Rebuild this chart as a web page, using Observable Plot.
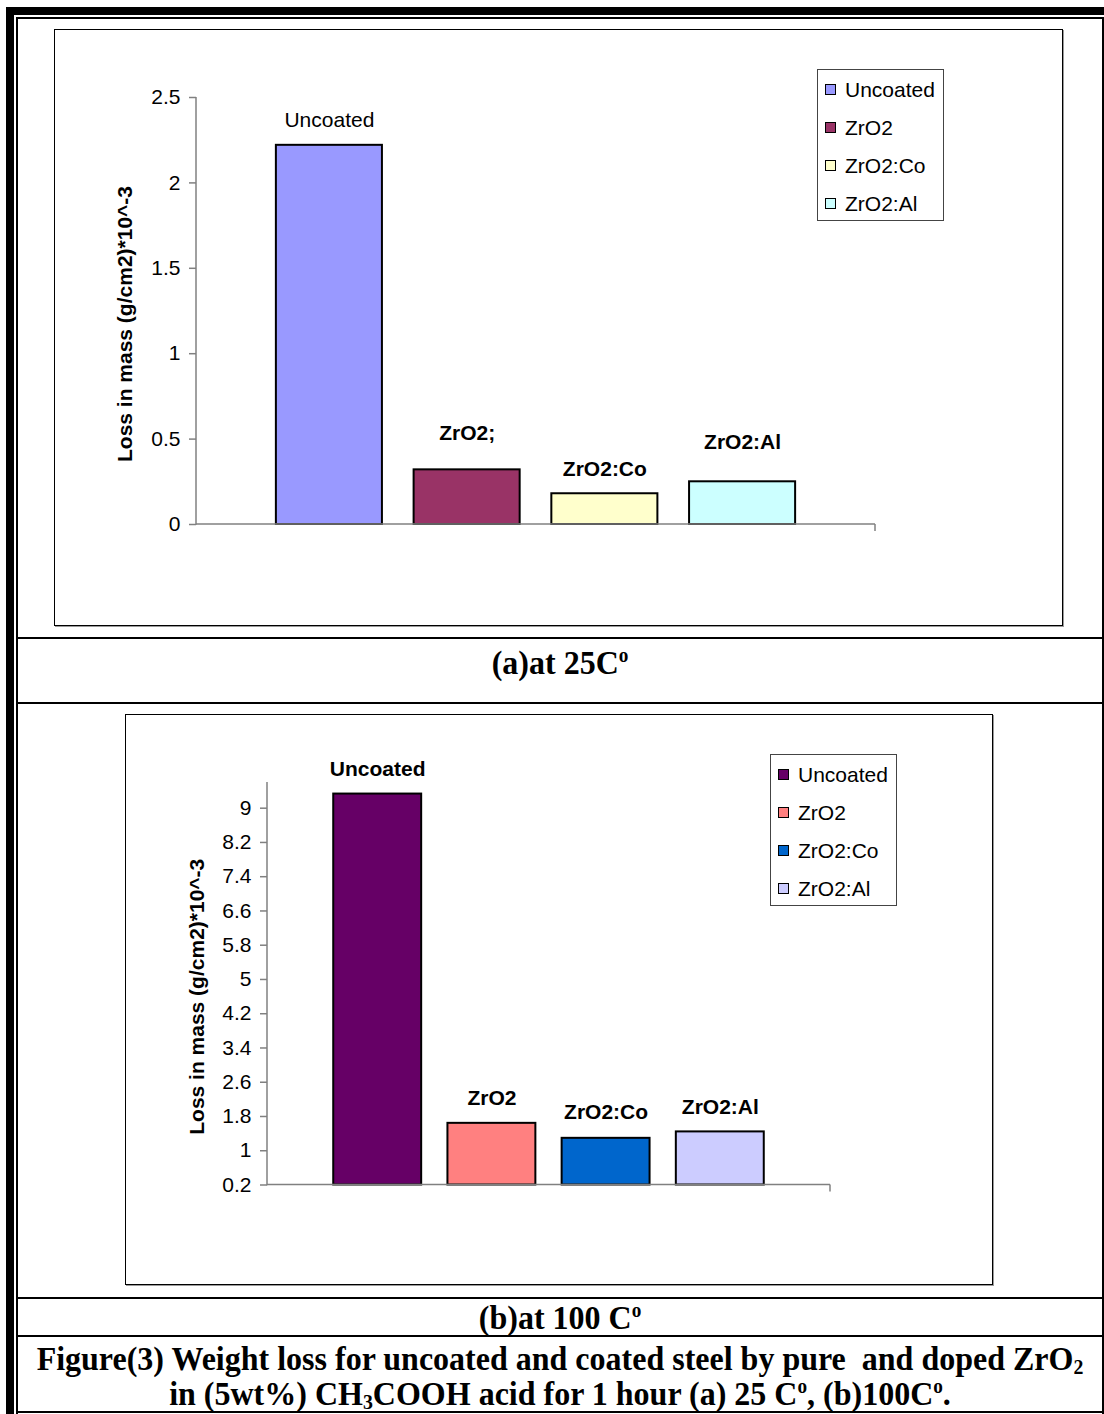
<!DOCTYPE html>
<html>
<head>
<meta charset="utf-8">
<script src="https://cdn.jsdelivr.net/npm/d3@7"></script>
<script src="https://cdn.jsdelivr.net/npm/@observablehq/plot@0.6"></script>
<style>
  html, body { margin: 0; padding: 0; background: #fff; }
  #page { position: relative; width: 1104px; height: 1414px; background: #fff; overflow: hidden; }
  .blk { position: absolute; background: #000; }
  .panel { position: absolute; box-sizing: border-box; border: 1px solid #000; box-shadow: 1px 1px 0 #9a9a9a; background: #fff; }
  .chart { position: absolute; }
  .legend { position: absolute; box-sizing: border-box; border: 1px solid #444; background: #fff;
            font-family: 'Liberation Sans', Arial, sans-serif; font-size: 21px; color: #000; }
  .legend .sw { position: absolute; width: 9px; height: 9px; border: 1.5px solid #000; }
  .legend .lt { position: absolute; line-height: 24px; white-space: nowrap; }
  .cap { position: absolute; left: 18px; width: 1084px; text-align: center; white-space: nowrap;
         font-family: 'Liberation Serif', 'Times New Roman', serif; font-weight: bold; font-size: 32px; line-height: 30px; color: #000;
         transform: scaleY(1.08); }
  .cap sup { font-size: 60%; vertical-align: 0.55em; line-height: 0; }
  .cap sub { font-size: 62%; vertical-align: -0.2em; line-height: 0; }
</style>
</head>
<body>
<div id="page"></div>
<script>
// ---------- data ----------
const categories = ["Uncoated", "ZrO2", "ZrO2:Co", "ZrO2:Al"];

const valuesA = [2.22, 0.32, 0.18, 0.25];
const barLabelsA = ["Uncoated", "ZrO2;", "ZrO2:Co", "ZrO2:Al"];
const colorsA = ["#9999FF", "#993366", "#FFFFCC", "#CCFFFF"];
const ticksA = [0, 0.5, 1, 1.5, 2, 2.5];

const valuesB = [9.33, 1.64, 1.29, 1.44];
const barLabelsB = ["Uncoated", "ZrO2", "ZrO2:Co", "ZrO2:Al"];
const colorsB = ["#660066", "#FF8080", "#0066CC", "#CCCCFF"];
const ticksB = [0.2, 1, 1.8, 2.6, 3.4, 4.2, 5, 5.8, 6.6, 7.4, 8.2, 9];

const yTitle = "Loss in mass (g/cm2)*10^-3";

// ---------- layout ----------
const page = document.getElementById("page");
function blk(l, t, w, h) {
  const d = document.createElement("div");
  d.className = "blk";
  Object.assign(d.style, {left: l + "px", top: t + "px", width: w + "px", height: h + "px"});
  page.appendChild(d);
}
// outer frame
blk(6, 7, 1098, 8);      // thick top
blk(6, 7, 8, 1407);      // thick left
blk(16, 17, 1088, 2);    // thin top
blk(16, 17, 2, 1397);    // thin left
blk(1102, 17, 2, 1397);  // thin right
blk(16, 1411, 1088, 2);  // thin bottom
// row separators
[637, 702, 1297, 1335].forEach(y => blk(16, y, 1088, 2));

function panel(l, t, w, h) {
  const d = document.createElement("div");
  d.className = "panel";
  Object.assign(d.style, {left: l + "px", top: t + "px", width: w + "px", height: h + "px"});
  page.appendChild(d);
}
panel(54, 29, 1009, 597);
panel(125, 714, 868, 571);

function chart({values, labels, colors, ticks, yDomain, left, top, width, height, margins, labelDy, labelWeight, titleDx, titleDy}) {
  const data = categories.map((c, i) => ({cat: c, value: values[i], label: labels[i]}));
  const axisLines = (index, scales, vals, dims) => {
    const g = d3.create("svg:g").attr("stroke", "#808080").attr("stroke-width", 1.5).attr("fill", "none");
    const x0 = dims.marginLeft, x1 = dims.width - dims.marginRight;
    const yT = scales.y(yDomain[1]), yB = scales.y(yDomain[0]);
    g.append("line").attr("x1", x0).attr("x2", x0).attr("y1", yT).attr("y2", yB + 0.75);
    g.append("line").attr("x1", x0).attr("x2", x1).attr("y1", yB).attr("y2", yB);
    g.append("line").attr("x1", x1).attr("x2", x1).attr("y1", yB).attr("y2", yB + 7);
    return g.node();
  };
  const marks = [
    Plot.barY(data, {x: "cat", y1: yDomain[0], y2: "value", fill: "cat", stroke: "#000", strokeWidth: 2}),
    axisLines,
    Plot.axisY({ticks, tickSize: 7, tickPadding: 9, stroke: "#808080", strokeWidth: 1.5, fill: "#000",
                fontSize: 21, tickFormat: d => String(d), label: null}),
    Plot.text([yTitle], {text: d => d, frameAnchor: "left", textAnchor: "middle", lineAnchor: "middle",
                         rotate: -90, dx: titleDx, dy: titleDy,
                         fontWeight: "bold", fontSize: 21, fill: "#000"})
  ];
  data.forEach((d, i) => {
    marks.push(Plot.text([d], {x: "cat", y: "value", text: "label", dy: labelDy[i],
                               fontWeight: labelWeight[i], fontSize: 21, fill: "#000"}));
  });
  const svg = Plot.plot({
    width, height,
    marginLeft: margins[0], marginRight: margins[1], marginTop: margins[2], marginBottom: margins[3],
    x: {domain: categories, paddingInner: 0.23, paddingOuter: 0.58, round: false, axis: null},
    y: {domain: yDomain, axis: null},
    color: {domain: categories, range: colors},
    style: {fontFamily: "'Liberation Sans', Arial, sans-serif", fontSize: "21px", color: "#000", background: "transparent", overflow: "visible"},
    marks
  });
  const wrap = document.createElement("div");
  wrap.className = "chart";
  Object.assign(wrap.style, {left: left + "px", top: top + "px"});
  wrap.appendChild(svg);
  page.appendChild(wrap);
}

chart({
  values: valuesA, labels: barLabelsA, colors: colorsA, ticks: ticksA, yDomain: [0, 2.5],
  left: 55, top: 30, width: 1006, height: 594, margins: [141, 186, 67, 100],
  labelDy: [-25, -37, -24, -40], labelWeight: ["normal", "bold", "bold", "bold"],
  titleDx: -71, titleDy: 13
});
chart({
  values: valuesB, labels: barLabelsB, colors: colorsB, ticks: ticksB, yDomain: [0.2, 9.6],
  left: 126, top: 715, width: 865, height: 568, margins: [141, 161, 67, 98.5],
  labelDy: [-25, -25, -26, -25], labelWeight: ["bold", "bold", "bold", "bold"],
  titleDx: -70, titleDy: 13
});

function legend(l, t, names, colors) {
  const d = document.createElement("div");
  d.className = "legend";
  Object.assign(d.style, {left: l + "px", top: t + "px", width: "127px", height: "152px"});
  names.forEach((n, i) => {
    const cy = 20 + 38 * i;
    const s = document.createElement("div");
    s.className = "sw";
    Object.assign(s.style, {left: "7px", top: (cy - 6) + "px", background: colors[i]});
    const tx = document.createElement("div");
    tx.className = "lt";
    tx.textContent = n;
    Object.assign(tx.style, {left: "27px", top: (cy - 12) + "px"});
    d.appendChild(s); d.appendChild(tx);
  });
  page.appendChild(d);
}
legend(817, 69, categories, colorsA);
legend(770, 754, categories, colorsB);

function cap(html, cy) {
  const d = document.createElement("div");
  d.className = "cap";
  d.innerHTML = html;
  d.style.top = (cy - 15) + "px";
  page.appendChild(d);
}
cap("(a)at 25C<sup>o</sup>", 662);
cap("(b)at 100 C<sup>o</sup>", 1317);
cap("Figure(3) Weight loss for uncoated and coated steel by pure&nbsp; and doped ZrO<sub>2</sub>", 1358);
cap("in (5wt%) CH<sub>3</sub>COOH acid for 1 hour (a) 25 C<sup>o</sup>, (b)100C<sup>o</sup>.", 1393);
</script>
</body>
</html>
